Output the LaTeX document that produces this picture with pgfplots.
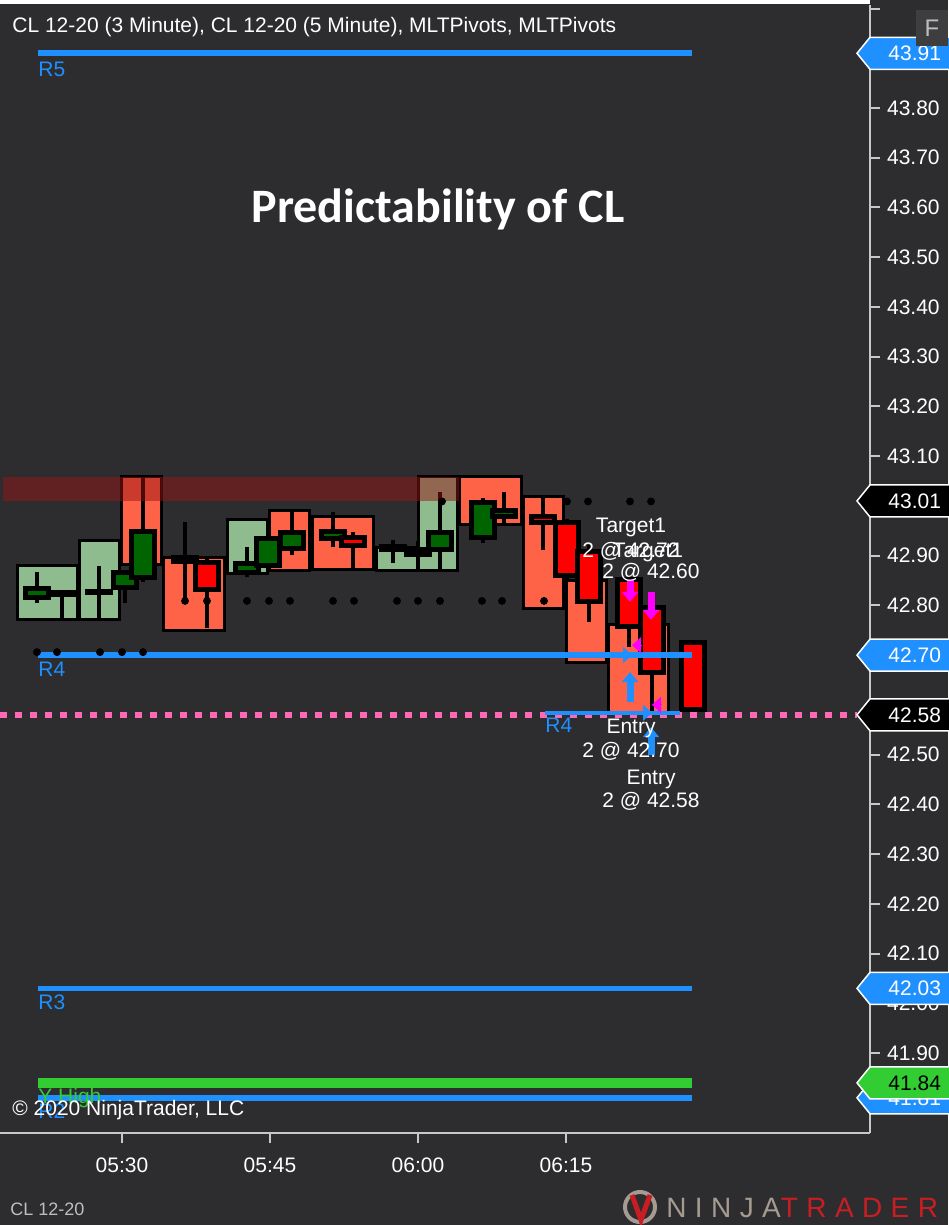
\documentclass[border=0pt]{standalone}
\usepackage{fontspec}
\setmainfont{Liberation Sans}
\newfontfamily\titlefont{Carlito}
\usepackage{pgfplots}
\pgfplotsset{compat=1.18}
\usetikzlibrary{arrows.meta}

\definecolor{bg}{RGB}{45,45,48}
\definecolor{boxgreen}{RGB}{143,188,143}
\definecolor{boxred}{RGB}{255,99,71}
\definecolor{cgreen}{RGB}{0,100,0}
\definecolor{cred}{RGB}{255,0,0}
\definecolor{pivblue}{RGB}{30,144,255}
\definecolor{lime}{RGB}{50,205,50}
\definecolor{pinkdot}{RGB}{255,105,180}
\definecolor{mag}{RGB}{255,0,255}
\definecolor{axisgray}{RGB}{200,200,200}
\definecolor{zonecol}{RGB}{150,20,20}
\definecolor{labgray}{RGB}{190,190,190}
\definecolor{ninjagray}{RGB}{165,155,145}
\definecolor{ninjared}{RGB}{200,30,35}

\newcommand{\fs}{\fontsize{10.5}{12.6}\selectfont}

% 5-minute bar box: x1, x2, low, high, colour
\newcommand{\fivebox}[5]{\addplot[fill=#5, draw=black, line width=1.5pt] coordinates {(#1,#3) (#2,#3) (#2,#4) (#1,#4)} -- cycle;}
% 3-minute candle: x, open, close, high, low, colour
\newcommand{\candle}[6]{%
  \pgfmathsetmacro{\xa}{#1-11.5}\pgfmathsetmacro{\xb}{#1+11.5}%
  \addplot[black, line width=2pt] coordinates {(#1,#5) (#1,#4)};
  \edef\tmp{\noexpand\addplot[fill=#6, draw=black, line width=2.5pt] coordinates {(\xa,#2) (\xb,#2) (\xb,#3) (\xa,#3)} -- cycle;}\tmp
}

\begin{document}
\begin{tikzpicture}
\path[use as bounding box] (0pt,0pt) rectangle (474pt,-612.5pt);
\begin{scope}[x=0.5pt,y=-0.5pt]
  \fill[bg] (0,0) rectangle (948,1225);
  \fill[white] (0,0) rectangle (870,4);
\end{scope}

\begin{axis}[
  at={(0pt,-566.5pt)}, anchor=south west,
  scale only axis, width=435pt, height=564pt,
  xmin=0, xmax=870, ymin=41.7392, ymax=44.0071,
  clip=false,
  axis x line*=bottom, axis y line*=right,
  axis line style={draw=axisgray, line width=1pt, -},
  tick align=outside, major tick length=5pt,
  tick style={draw=axisgray, line width=1pt},
  xtick={122,270,418,566}, xticklabels={05:30,05:45,06:00,06:15},
  ytick={41.9,42.0,42.1,42.2,42.3,42.4,42.5,42.8,42.9,43.1,43.2,43.3,43.4,43.5,43.6,43.7,43.8},
  extra y ticks={41.8,42.6,42.7,43.0,43.9,44.0}, extra y tick labels={},
  extra tick style={grid=none},
  ticklabel style={font=\fs, text=white},
  yticklabel style={/pgf/number format/fixed, /pgf/number format/fixed zerofill, /pgf/number format/precision=2},
  /pgf/number format/assume math mode=true,
  xticklabel style={yshift=-4pt},
]
% 42.58 pink dotted level
\addplot[pinkdot, line width=3pt, dash pattern=on 3.5pt off 4pt] coordinates {(0,42.58) (857,42.58)};

% 5-minute bars
\fivebox{17}{77}{42.771}{42.881}{boxgreen}
\fivebox{79}{119}{42.771}{42.931}{boxgreen}
\fivebox{121}{161}{42.883}{43.060}{boxred}
\fivebox{163}{224}{42.750}{42.897}{boxred}
\fivebox{227}{267}{42.865}{42.972}{boxgreen}
\fivebox{269}{309}{42.871}{42.990}{boxred}
\fivebox{312}{373}{42.873}{42.978}{boxred}
\fivebox{376}{417}{42.871}{42.917}{boxgreen}
\fivebox{418}{457}{42.871}{43.060}{boxgreen}
\fivebox{459}{521}{42.962}{43.060}{boxred}
\fivebox{523}{563}{42.793}{43.018}{boxred}
\fivebox{566}{606}{42.686}{42.851}{boxred}
\fivebox{608}{668}{42.584}{42.761}{boxred}

% pivot dots
\addplot[only marks, mark=*, mark size=1.75pt, mark options={draw=black, fill=black}] coordinates {(185,42.809) (207,42.809) (247,42.809) (269,42.809) (290,42.809) (333,42.809) (354,42.809) (397,42.809) (418,42.809) (440,42.809) (482,42.809) (502,42.809) (544,42.809)};
\addplot[only marks, mark=*, mark size=1.75pt, mark options={draw=black, fill=black}] coordinates {(442,43.009) (567,43.009) (588,43.009) (630,43.009) (651,43.009)};
\addplot[only marks, mark=*, mark size=1.75pt, mark options={draw=black, fill=black}] coordinates {(37,42.706) (57,42.706) (100,42.706) (122,42.706) (143,42.706)};

% 3-minute candles
\candle{37}{42.815}{42.833}{42.867}{42.805}{cgreen}
\candle{62}{42.825}{42.821}{42.825}{42.773}{cred}
\candle{99}{42.826}{42.828}{42.879}{42.773}{cgreen}
\candle{125}{42.835}{42.867}{42.867}{42.805}{cgreen}
\candle{143}{42.857}{42.948}{43.060}{42.847}{cgreen}
\candle{185}{42.897}{42.889}{42.968}{42.807}{cred}
\candle{207}{42.887}{42.831}{42.895}{42.755}{cred}
\candle{247}{42.867}{42.885}{42.917}{42.857}{cgreen}
\candle{268}{42.881}{42.934}{42.942}{42.871}{cgreen}
\candle{292}{42.915}{42.946}{42.988}{42.901}{cgreen}
\candle{333}{42.934}{42.948}{42.988}{42.917}{cgreen}
\candle{353}{42.936}{42.921}{42.948}{42.873}{cred}
\candle{393}{42.919}{42.913}{42.931}{42.885}{cred}
\candle{418}{42.913}{42.903}{42.929}{42.873}{cred}
\candle{440}{42.913}{42.946}{43.028}{42.873}{cgreen}
\candle{483}{42.936}{43.006}{43.016}{42.925}{cgreen}
\candle{504}{42.978}{42.990}{43.028}{42.962}{cgreen}
\candle{543}{42.978}{42.966}{43.018}{42.911}{cred}
\candle{567}{42.966}{42.861}{42.974}{42.849}{cred}
\candle{589}{42.909}{42.807}{42.921}{42.767}{cred}
\candle{629}{42.853}{42.757}{42.861}{42.716}{cred}
\candle{652}{42.795}{42.666}{42.811}{42.584}{cred}
\candle{693}{42.726}{42.590}{42.726}{42.590}{cred}

% supply zone
\addplot[draw=none, fill=zonecol, fill opacity=0.5] coordinates {(3,43.010) (459,43.010) (459,43.058) (3,43.058)} -- cycle;

% pivot lines
\addplot[pivblue, line width=3pt] coordinates {(38,43.91) (692,43.91)};
\addplot[pivblue, line width=2.75pt] coordinates {(38,42.70) (692,42.70)};
\addplot[pivblue, line width=2pt] coordinates {(545,42.584) (680,42.584)};
\addplot[pivblue, line width=2.75pt] coordinates {(38,42.03) (692,42.03)};
\addplot[lime, line width=5pt] coordinates {(38,41.84) (692,41.84)};
\addplot[pivblue, line width=2.75pt] coordinates {(38,41.81) (692,41.81)};

% execution markers
\addplot[mag, line width=3.5pt, -{Triangle[length=5pt,width=8pt]}] coordinates {(630,42.851) (630,42.807)};
\addplot[mag, line width=3.5pt, -{Triangle[length=5pt,width=8pt]}] coordinates {(651,42.827) (651,42.771)};
\addplot[pivblue, line width=3.5pt, -{Triangle[length=5pt,width=8pt]}] coordinates {(630,42.606) (630,42.666)};
\addplot[pivblue, line width=3.5pt, -{Triangle[length=5pt,width=8pt]}] coordinates {(651,42.499) (651,42.555)};
\addplot[mag, line width=0.5pt, -{Triangle[length=4.5pt,width=8pt]}] coordinates {(641,42.72) (632,42.72)};
\addplot[mag, line width=0.5pt, -{Triangle[length=4.5pt,width=8pt]}] coordinates {(661,42.60) (652,42.60)};
\addplot[pivblue, line width=0.5pt, -{Triangle[length=4.5pt,width=8pt]}] coordinates {(623,42.70) (632,42.70)};
\addplot[pivblue, line width=0.5pt, -{Triangle[length=4.5pt,width=8pt]}] coordinates {(643,42.584) (652,42.584)};

% pivot labels
\node[anchor=base west, inner sep=0, text=pivblue, font=\fs, yshift=-11.5pt] at (axis cs:38,43.91) {R5};
\node[anchor=base west, inner sep=0, text=pivblue, font=\fs, yshift=-10.5pt] at (axis cs:38,42.70) {R4};
\node[anchor=base west, inner sep=0, text=pivblue, font=\fs, yshift=-10pt] at (axis cs:545,42.584) {R4};
\node[anchor=base west, inner sep=0, text=pivblue, font=\fs, yshift=-10.5pt] at (axis cs:38,42.03) {R3};
\node[anchor=base west, inner sep=0, text=lime, font=\fs, yshift=-10.5pt] at (axis cs:38,41.84) {Y High};
\node[anchor=base west, inner sep=0, text=pivblue, font=\fs, yshift=-10.5pt] at (axis cs:38,41.81) {R2};

% execution texts
\node[anchor=base, inner sep=0, text=white, font=\fs] at (axis cs:631,42.946) {Target1};
\node[anchor=base, inner sep=0, text=white, font=\fs] at (axis cs:631,42.897) {2 @ 42.72};
\node[anchor=base, inner sep=0, text=white, font=\fs] at (axis cs:648,42.897) {Target1};
\node[anchor=base, inner sep=0, text=white, font=\fs] at (axis cs:651,42.855) {2 @ 42.60};
\node[anchor=base, inner sep=0, text=white, font=\fs] at (axis cs:631,42.543) {Entry};
\node[anchor=base, inner sep=0, text=white, font=\fs] at (axis cs:631,42.495) {2 @ 42.70};
\node[anchor=base, inner sep=0, text=white, font=\fs] at (axis cs:651,42.439) {Entry};
\node[anchor=base, inner sep=0, text=white, font=\fs] at (axis cs:651,42.393) {2 @ 42.58};

% flag anchors
\coordinate (f1) at (axis cs:870,43.91);
\coordinate (f2) at (axis cs:870,43.01);
\coordinate (f3) at (axis cs:870,42.70);
\coordinate (f4) at (axis cs:870,42.58);
\coordinate (f5) at (axis cs:870,42.03);
\coordinate (f6) at (axis cs:870,41.81);
\coordinate (f7) at (axis cs:870,41.84);
\end{axis}

\begin{scope}[x=0.5pt,y=-0.5pt]
  \newcommand{\flag}[4]{%
    \draw[fill=#2, draw=white, line width=0.75pt] (#1) ++(-13,0) -- ++(13,-16) -- ++(82,0) -- ++(0,32) -- ++(-82,0) -- cycle;
    \path (#1) ++(18,7.5) node[anchor=base west, inner sep=0, text=#3, font=\fs] {#4};}
  \flag{f1}{pivblue}{white}{43.91}
  \flag{f2}{black}{white}{43.01}
  \flag{f3}{pivblue}{white}{42.70}
  \flag{f4}{black}{white}{42.58}
  \flag{f5}{pivblue}{white}{42.03}
  \flag{f6}{pivblue}{white}{41.81}
  \flag{f7}{lime}{black}{41.84}

  % F button
  \fill[fill={rgb,255:red,62;green,62;blue,65}] (916,10) rectangle (948,46);
  \node[text=labgray, font=\fontsize{12}{14}\selectfont] at (932,28) {F};

  % header and texts
  \node[anchor=base west, inner sep=0, text=white, font=\fs] at (12,33) {CL 12-20 (3 Minute), CL 12-20 (5 Minute), MLTPivots, MLTPivots};
  \node[anchor=base, inner sep=0, text=white, font=\titlefont\bfseries\fontsize{24}{28}\selectfont] at (438,223) {Predictability of CL};
  \node[anchor=base west, inner sep=0, text=white, font=\fs] at (12,1115) {© 2020 NinjaTrader, LLC};
  \node[anchor=base west, inner sep=0, text=labgray, font=\fontsize{9}{10}\selectfont] at (10,1215) {CL 12-20};

  % logo
  \draw[ninjagray, line width=2pt] (640,1207) circle (15);
  \draw[ninjared, line width=2.5pt] (632,1195) -- (641,1220) -- (650,1195);
  \node[anchor=base west, inner sep=0, font=\fontsize{14}{16}\selectfont\addfontfeatures{LetterSpace=30}] at (666,1217) {\textcolor{ninjagray}{NINJA}\textcolor{ninjared}{TRADER}};
\end{scope}
\end{tikzpicture}
\end{document}
